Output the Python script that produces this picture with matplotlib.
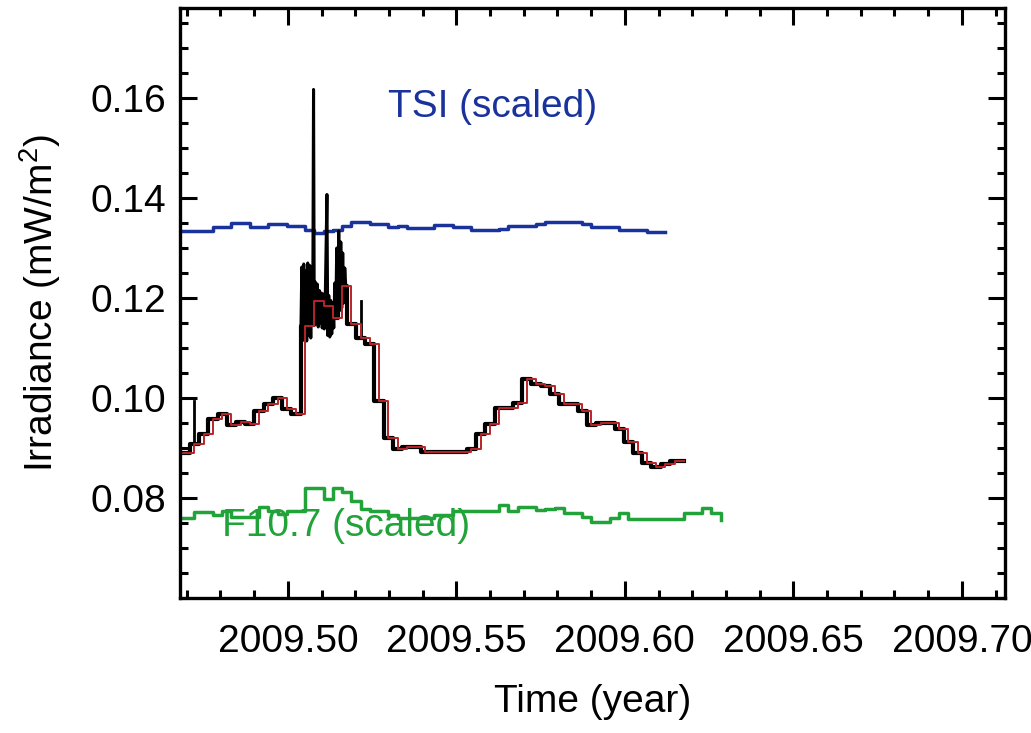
import numpy as np
import matplotlib
matplotlib.use("Agg")
import matplotlib.pyplot as plt
from matplotlib.ticker import MultipleLocator, FormatStrFormatter

plt.rcParams['font.family'] = ['Liberation Sans', 'DejaVu Sans']
plt.rcParams['mathtext.fontset'] = 'custom'
plt.rcParams['mathtext.rm'] = 'Liberation Sans'
plt.rcParams['mathtext.it'] = 'Liberation Sans:italic'

# daily samples, start of the first day (decimal year)
START_YEAR = 2009.4668
DAYS_PER_YEAR = 365.0

# band irradiance, daily values (mW/m^2)
daily_irr = [0.0889, 0.0889, 0.0908, 0.0928, 0.0958, 0.0968, 0.0946, 0.0952,
             0.0948, 0.0974, 0.0988, 0.1000, 0.0978, 0.0968, 0.1144, 0.1194,
             0.1184, 0.1160, 0.1224, 0.1148, 0.1120, 0.1108, 0.0994, 0.0920,
             0.0898, 0.0902, 0.0902, 0.0891, 0.0891, 0.0891, 0.0891, 0.0891,
             0.0898, 0.0928, 0.0948, 0.0980, 0.0980, 0.0990, 0.1038, 0.1028,
             0.1024, 0.1008, 0.0988, 0.0988, 0.0974, 0.0946, 0.0950, 0.0950,
             0.0938, 0.0912, 0.0890, 0.0870, 0.0862, 0.0868, 0.0874, 0.0874]

# high cadence samples during the flare period (days since START_YEAR)
hc_day = [13.52, 13.63, 13.73, 13.84, 13.95, 14.06, 14.16, 14.27, 14.38, 14.49,
          14.60, 14.70, 14.81, 14.90, 14.98, 15.09, 15.19, 15.30, 15.41, 15.52,
          15.63, 15.74, 15.84, 15.95, 16.06, 16.17, 16.35, 16.44, 16.55, 16.66,
          16.76, 16.87, 16.98, 17.09, 17.20, 17.31, 17.41, 17.52, 17.63, 17.74,
          17.85, 17.95, 18.06, 18.17, 18.28, 18.39]
hc_irr = [0.1120, 0.1262, 0.1115, 0.1268, 0.1118, 0.1255, 0.1114, 0.1270, 0.1125, 0.1265,
          0.1120, 0.1258, 0.1150, 0.1617, 0.1145, 0.1232, 0.1148, 0.1228, 0.1142, 0.1215,
          0.1150, 0.1210, 0.1140, 0.1208, 0.1138, 0.1200, 0.1407, 0.1125, 0.1205, 0.1122,
          0.1195, 0.1128, 0.1190, 0.1140, 0.1230, 0.1165, 0.1300, 0.1168, 0.1334, 0.1175,
          0.1312, 0.1180, 0.1290, 0.1190, 0.1260, 0.1224]

# isolated short spikes (day, base, peak)
spike_day = [1.95, 20.02]
spike_base = [0.0908, 0.1120]
spike_peak = [0.0994, 0.1194]

# TSI scaled to the same axis
tsi = [0.1333, 0.1333, 0.1333, 0.1333, 0.1341, 0.1341, 0.1349, 0.1349, 0.1342, 0.1342,
       0.1347, 0.1347, 0.1344, 0.1344, 0.1336, 0.1329, 0.1334, 0.1336, 0.1344, 0.1351,
       0.1351, 0.1347, 0.1347, 0.1341, 0.1344, 0.1339, 0.1339, 0.1339, 0.1345, 0.1345,
       0.1342, 0.1342, 0.1335, 0.1335, 0.1335, 0.1338, 0.1344, 0.1344, 0.1344, 0.1347,
       0.1351, 0.1351, 0.1351, 0.1351, 0.1347, 0.1342, 0.1342, 0.1342, 0.1335, 0.1335,
       0.1335, 0.1331, 0.1331, 0.1331]

# F10.7 scaled to the same axis
f107 = [0.0759, 0.0759, 0.0772, 0.0772, 0.0766, 0.0774, 0.0762, 0.0762, 0.0762, 0.0782,
        0.0774, 0.0768, 0.0774, 0.0774, 0.0819, 0.0819, 0.0797, 0.0819, 0.0811, 0.0793,
        0.0778, 0.0774, 0.0774, 0.0766, 0.0759, 0.0759, 0.0759, 0.0759, 0.0766, 0.0766,
        0.0774, 0.0774, 0.0774, 0.0774, 0.0774, 0.0786, 0.0774, 0.0782, 0.0782, 0.0776,
        0.0778, 0.0780, 0.0770, 0.0770, 0.0762, 0.0751, 0.0751, 0.0760, 0.0770, 0.0757,
        0.0757, 0.0757, 0.0757, 0.0757, 0.0757, 0.0770, 0.0770, 0.0780, 0.0770, 0.0755]

x_ticks = [2009.50, 2009.55, 2009.60, 2009.65, 2009.70]
y_ticks = [0.08, 0.10, 0.12, 0.14, 0.16]


def day_to_year(d):
    return START_YEAR + np.asarray(d, dtype=float) / DAYS_PER_YEAR


fig = plt.figure(figsize=(10.31, 7.33), dpi=100)
ax = fig.add_axes([0.1746, 0.1842, 0.8002, 0.8049])

t_daily = day_to_year(np.arange(len(daily_irr)))
t_tsi = day_to_year(np.arange(len(tsi)))
t_f107 = day_to_year(np.arange(len(f107)))

# TSI and F10.7
ax.plot(t_tsi, tsi, drawstyle='steps-post', color='#1a339c', lw=2.5)
ax.plot(t_f107, f107, drawstyle='steps-post', color='#22a33a', lw=2.5)

# high-cadence measurement (black)
ax.plot(t_daily, daily_irr, drawstyle='steps-mid', color='black', lw=3.0)
ax.plot(day_to_year(hc_day), hc_irr, color='black', lw=2.2)
for d, b, p in zip(spike_day, spike_base, spike_peak):
    ax.plot(day_to_year([d, d]), [b, p], color='black', lw=2.0)

# daily average (red)
ax.plot(t_daily, daily_irr, drawstyle='steps-post', color='#b8242a', lw=1.4)

ax.text(2009.5298, 0.1582, 'TSI (scaled)', color='#1a339c', fontsize=28,
        ha='left', va='center')
ax.text(2009.4806, 0.0744, 'F10.7 (scaled)', color='#22a33a', fontsize=28,
        ha='left', va='center')

ax.set_xlim(2009.468, 2009.7128)
ax.set_ylim(0.06, 0.178)
ax.set_xticks(x_ticks)
ax.set_yticks(y_ticks)
ax.xaxis.set_major_formatter(FormatStrFormatter('%.2f'))
ax.yaxis.set_major_formatter(FormatStrFormatter('%.2f'))
ax.xaxis.set_minor_locator(MultipleLocator(0.01))
ax.yaxis.set_minor_locator(MultipleLocator(0.005))

ax.tick_params(which='both', direction='in', top=True, right=True, width=2.2)
ax.tick_params(which='major', length=12, labelsize=28)
ax.tick_params(which='minor', length=6)
ax.tick_params(axis='x', which='major', pad=19)
ax.tick_params(axis='y', which='major', pad=10)
for sp in ax.spines.values():
    sp.set_linewidth(2.4)

ax.set_xlabel('Time (year)', fontsize=28, labelpad=17)
ax.set_ylabel('Irradiance (mW/m$^2$)', fontsize=28, labelpad=20)

fig.savefig('out.png', dpi=100)
